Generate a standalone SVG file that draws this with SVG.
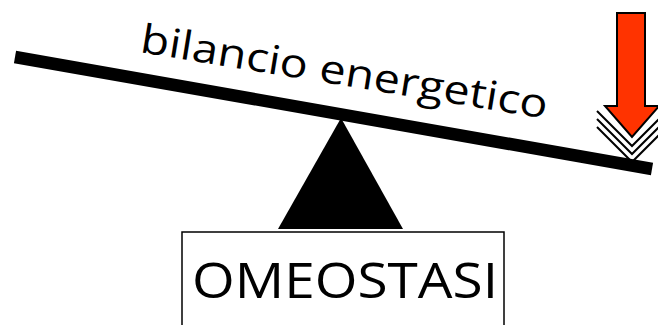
<svg xmlns="http://www.w3.org/2000/svg" width="658" height="325" viewBox="0 0 658 325">
<style>
.lbl{font-family:"Open Sans","DejaVu Sans",sans-serif;fill:#000}
.chev{fill:none;stroke:#000;stroke-width:2}
</style>
<rect width="658" height="325" fill="#fff"/>
<g id="beam">
<line x1="15" y1="57" x2="652" y2="169" stroke="#000" stroke-width="12.5"/>
<text class="lbl" font-size="40" transform="translate(139,52) rotate(9.3)" textLength="412" lengthAdjust="spacingAndGlyphs">bilancio energetico</text>
</g>
<g id="fulcrum">
<polygon points="341,118 278,229 403,229" fill="#000"/>
</g>
<g id="omeostasi">
<rect x="182" y="232" width="322" height="100" fill="#fff" stroke="#000" stroke-width="1.5"/>
<text class="lbl" x="192" y="298" font-size="50" textLength="306" lengthAdjust="spacingAndGlyphs">OMEOSTASI</text>
</g>
<g id="arrow">
<polygon points="617,13 645,13 645,106 659,106 632,137 605,106 617,106" fill="#ff3300" stroke="#000" stroke-width="2" stroke-linejoin="miter"/>
<polyline class="chev" points="597,111 632,146 667,111"/>
<polyline class="chev" points="597,119 632,154 667,119"/>
<polyline class="chev" points="597,127 632,162 667,127"/>
</g>
</svg>
